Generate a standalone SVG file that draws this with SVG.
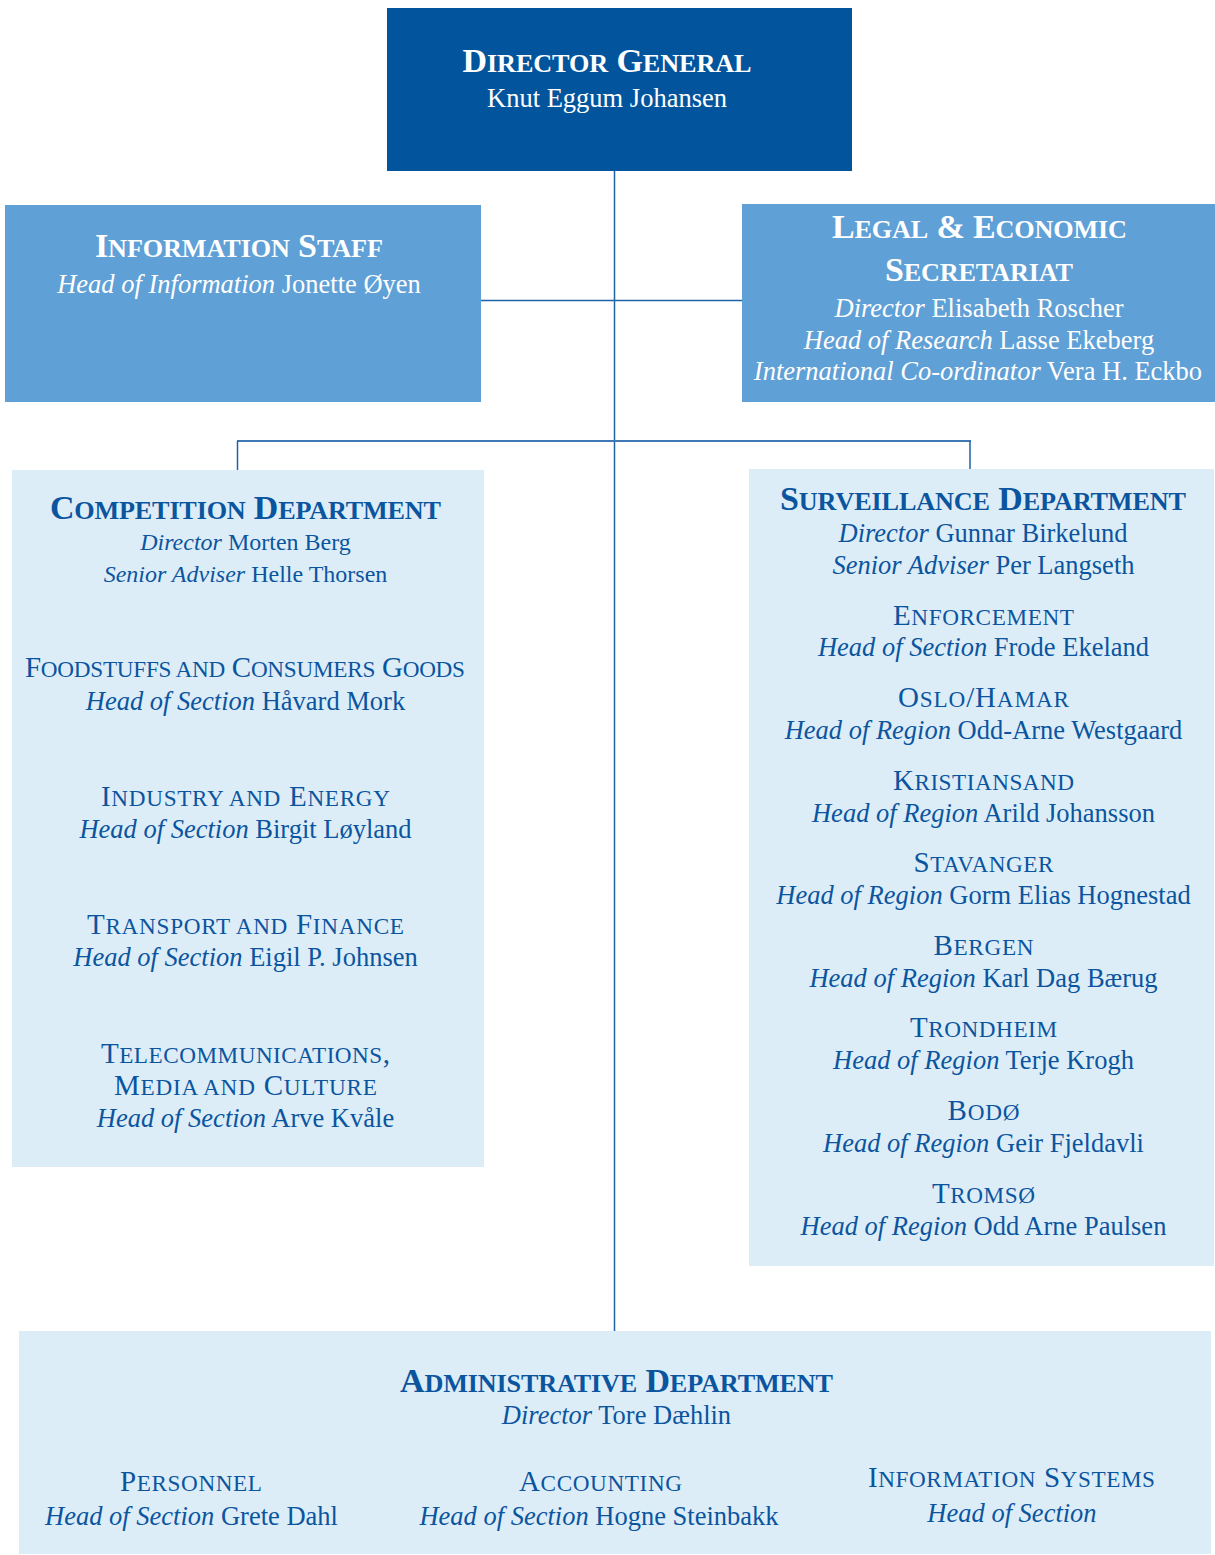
<svg xmlns="http://www.w3.org/2000/svg" width="1215" height="1555" viewBox="0 0 1215 1555">
<style>
text{font-family:"Liberation Serif","Times New Roman",serif;text-anchor:middle}
.w{fill:#ffffff}
.b{fill:#0b559f}
.h{font-weight:bold;font-size:34px}
.s{font-size:29px}
.p{font-size:26.5px}
.p24{font-size:24px}
.sc{font-size:0.77em}
.s .sc{font-size:0.8em}
.i{font-style:italic}
.dark{fill:#02559d}
.mid{fill:#5fa0d6}
.light{fill:#ddedf8}
.ln{stroke:#1e62a8;stroke-width:1.5;fill:none}
.ln2{stroke:#3f78b3;stroke-width:2;fill:none}
</style>
<rect width="1215" height="1555" fill="#ffffff"/>
<g id="connectors">
<line class="ln" x1="614.5" y1="171" x2="614.5" y2="1331"/>
<line class="ln" x1="481" y1="300.5" x2="742" y2="300.5"/>
<line class="ln2" x1="237" y1="441" x2="971" y2="441"/>
<line class="ln" x1="237.5" y1="441" x2="237.5" y2="470"/>
<line class="ln" x1="970" y1="441" x2="970" y2="469"/>
</g>
<g id="director-general">
<rect class="dark" x="387" y="8" width="465" height="163"/>
<text class="w h" x="607" y="72" textLength="289">D<tspan class="sc">IRECTOR</tspan> G<tspan class="sc">ENERAL</tspan></text>
<text class="w p" x="607" y="107">Knut Eggum Johansen</text>
</g>
<g id="information-staff">
<rect class="mid" x="5" y="205" width="476" height="197"/>
<text class="w h" x="239" y="257" textLength="288">I<tspan class="sc">NFORMATION</tspan> S<tspan class="sc">TAFF</tspan></text>
<text class="w p" x="239" y="293"><tspan class="i">Head of Information</tspan> Jonette Øyen</text>
</g>
<g id="legal-economic-secretariat">
<rect class="mid" x="742" y="204" width="473" height="198"/>
<text class="w h" x="979.5" y="238" textLength="295">L<tspan class="sc">EGAL</tspan> &amp; E<tspan class="sc">CONOMIC</tspan></text>
<text class="w h" x="979" y="281" textLength="188">S<tspan class="sc">ECRETARIAT</tspan></text>
<text class="w p" x="979" y="317"><tspan class="i">Director</tspan> Elisabeth Roscher</text>
<text class="w p" x="979" y="348.5"><tspan class="i">Head of Research</tspan> Lasse Ekeberg</text>
<text class="w p" x="978" y="380"><tspan class="i">International Co-ordinator</tspan> Vera H. Eckbo</text>
</g>
<g id="competition-department">
<rect class="light" x="12" y="470" width="472" height="697"/>
<text class="b h" x="245.5" y="519" textLength="391">C<tspan class="sc">OMPETITION</tspan> D<tspan class="sc">EPARTMENT</tspan></text>
<text class="b p24" x="245.5" y="550"><tspan class="i">Director</tspan> Morten Berg</text>
<text class="b p24" x="245.5" y="581.5"><tspan class="i">Senior Adviser</tspan> Helle Thorsen</text>
<text class="b s" x="245" y="677" textLength="440">F<tspan class="sc">OODSTUFFS AND</tspan> C<tspan class="sc">ONSUMERS</tspan> G<tspan class="sc">OODS</tspan></text>
<text class="b p" x="245.5" y="710"><tspan class="i">Head of Section</tspan> Håvard Mork</text>
<text class="b s" x="245.5" y="806" textLength="289">I<tspan class="sc">NDUSTRY AND</tspan> E<tspan class="sc">NERGY</tspan></text>
<text class="b p" x="245.5" y="838"><tspan class="i">Head of Section</tspan> Birgit Løyland</text>
<text class="b s" x="245.5" y="934" textLength="317">T<tspan class="sc">RANSPORT AND</tspan> F<tspan class="sc">INANCE</tspan></text>
<text class="b p" x="245.5" y="966"><tspan class="i">Head of Section</tspan> Eigil P. Johnsen</text>
<text class="b s" x="245.5" y="1063" textLength="289">T<tspan class="sc">ELECOMMUNICATIONS</tspan>,</text>
<text class="b s" x="245.5" y="1095" textLength="263">M<tspan class="sc">EDIA AND</tspan> C<tspan class="sc">ULTURE</tspan></text>
<text class="b p" x="245.5" y="1127"><tspan class="i">Head of Section</tspan> Arve Kvåle</text>
</g>
<g id="surveillance-department">
<rect class="light" x="749" y="469" width="465" height="797"/>
<text class="b h" x="983" y="510" textLength="406">S<tspan class="sc">URVEILLANCE</tspan> D<tspan class="sc">EPARTMENT</tspan></text>
<text class="b p" x="983" y="542"><tspan class="i">Director</tspan> Gunnar Birkelund</text>
<text class="b p" x="983.5" y="573.5"><tspan class="i">Senior Adviser</tspan> Per Langseth</text>
<text class="b s" x="983.5" y="624.5" textLength="181">E<tspan class="sc">NFORCEMENT</tspan></text>
<text class="b p" x="983.5" y="656"><tspan class="i">Head of Section</tspan> Frode Ekeland</text>
<text class="b s" x="983.5" y="707" textLength="171">O<tspan class="sc">SLO</tspan>/H<tspan class="sc">AMAR</tspan></text>
<text class="b p" x="983.5" y="738.5"><tspan class="i">Head of Region</tspan> Odd-Arne Westgaard</text>
<text class="b s" x="983.5" y="789.5" textLength="181">K<tspan class="sc">RISTIANSAND</tspan></text>
<text class="b p" x="983.5" y="821.5"><tspan class="i">Head of Region</tspan> Arild Johansson</text>
<text class="b s" x="983.5" y="872" textLength="140">S<tspan class="sc">TAVANGER</tspan></text>
<text class="b p" x="983.5" y="904"><tspan class="i">Head of Region</tspan> Gorm Elias Hognestad</text>
<text class="b s" x="983.5" y="954.5" textLength="100">B<tspan class="sc">ERGEN</tspan></text>
<text class="b p" x="983.5" y="986.5"><tspan class="i">Head of Region</tspan> Karl Dag Bærug</text>
<text class="b s" x="983.5" y="1037" textLength="147">T<tspan class="sc">RONDHEIM</tspan></text>
<text class="b p" x="983.5" y="1069"><tspan class="i">Head of Region</tspan> Terje Krogh</text>
<text class="b s" x="983.5" y="1120" textLength="72">B<tspan class="sc">ODØ</tspan></text>
<text class="b p" x="983.5" y="1152"><tspan class="i">Head of Region</tspan> Geir Fjeldavli</text>
<text class="b s" x="983.5" y="1202.5" textLength="103">T<tspan class="sc">ROMSØ</tspan></text>
<text class="b p" x="983.5" y="1234.5"><tspan class="i">Head of Region</tspan> Odd Arne Paulsen</text>
</g>
<g id="administrative-department">
<rect class="light" x="19" y="1331" width="1192" height="223"/>
<text class="b h" x="616.5" y="1392" textLength="433">A<tspan class="sc">DMINISTRATIVE</tspan> D<tspan class="sc">EPARTMENT</tspan></text>
<text class="b p" x="616.5" y="1424"><tspan class="i">Director</tspan> Tore Dæhlin</text>
<text class="b s" x="191" y="1491" textLength="142">P<tspan class="sc">ERSONNEL</tspan></text>
<text class="b p" x="191.5" y="1525"><tspan class="i">Head of Section</tspan> Grete Dahl</text>
<text class="b s" x="600.5" y="1491" textLength="163">A<tspan class="sc">CCOUNTING</tspan></text>
<text class="b p" x="599" y="1525"><tspan class="i">Head of Section</tspan> Hogne Steinbakk</text>
<text class="b s" x="1011.5" y="1487" textLength="287">I<tspan class="sc">NFORMATION</tspan> S<tspan class="sc">YSTEMS</tspan></text>
<text class="b p" x="1012" y="1522"><tspan class="i">Head of Section</tspan></text>
</g>
</svg>
